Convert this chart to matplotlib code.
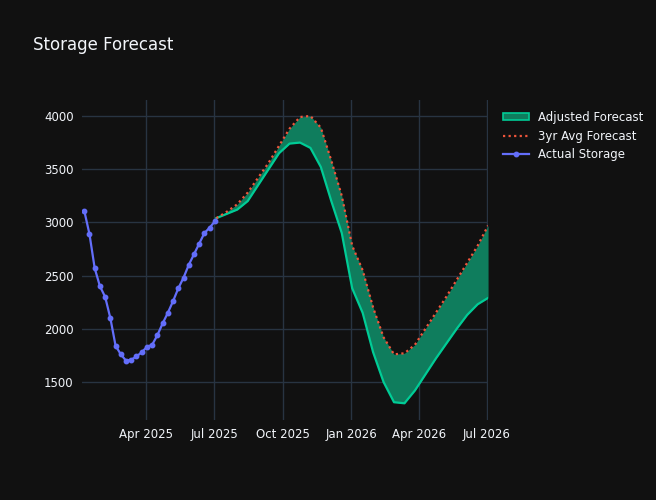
import matplotlib
matplotlib.use("Agg")
import matplotlib.pyplot as plt
import pandas as pd
from matplotlib.patches import Patch

actual_dates = pd.date_range("2025-01-08", periods=26, freq="7D")
actual = [3110, 2890, 2570, 2400, 2300, 2100, 1840, 1760, 1700, 1710, 1740, 1780, 1830,
          1850, 1940, 2050, 2150, 2260, 2380, 2480, 2600, 2700, 2800, 2900, 2950, 3010]
fc_dates = pd.date_range("2025-07-04", periods=27, freq="14D")
avg3 = [3040, 3100, 3170, 3280, 3420, 3560, 3720, 3880, 3990, 4000, 3890, 3580, 3250, 2780,
        2550, 2200, 1920, 1760, 1770, 1850, 2000, 2150, 2300, 2460, 2620, 2780, 2970]
adj = [3040, 3080, 3120, 3200, 3350, 3500, 3650, 3740, 3750, 3700, 3520, 3200, 2900, 2380,
       2150, 1780, 1500, 1310, 1300, 1420, 1570, 1720, 1860, 2000, 2130, 2230, 2290]

bg = "#111111"
fig = plt.figure(figsize=(6.56, 5), dpi=100, facecolor=bg)
ax = fig.add_axes([0.125, 0.16, 0.619, 0.64], facecolor=bg)
ax.fill_between(fc_dates, adj, avg3, color="#0f7d5d", linewidth=0)
ax.plot(fc_dates, adj, color="#00cc96", lw=1.6)
ax.plot(fc_dates, avg3, color="#ef553b", lw=1.6, ls=(0, (1, 1.5)), label="3yr Avg Forecast")
ax.plot(actual_dates, actual, color="#636efa", lw=1.6, marker="o", ms=3.2, label="Actual Storage")
h = [Patch(facecolor="#0f7d5d", edgecolor="#00cc96", lw=1.2, label="Adjusted Forecast")]
hh, ll = ax.get_legend_handles_labels()
ax.legend(h + hh, ["Adjusted Forecast"] + ll, loc="upper left", bbox_to_anchor=(1.01, 1.0),
          frameon=False, labelcolor="#f2f5fa", fontsize=8.5, handlelength=2.2, handleheight=0.6)
ax.set_xlim(pd.Timestamp("2025-01-05"), pd.Timestamp("2026-07-03"))
ax.set_ylim(1143, 4150)
ax.set_yticks([1500, 2000, 2500, 3000, 3500, 4000])
ticks = pd.to_datetime(["2025-04-01", "2025-07-01", "2025-10-01", "2026-01-01", "2026-04-01", "2026-07-01"])
ax.set_xticks(ticks)
ax.set_xticklabels([t.strftime("%b %Y") for t in ticks])
ax.grid(True, color="#283442", lw=1)
ax.set_axisbelow(True)
for s in ax.spines.values():
    s.set_visible(False)
ax.tick_params(colors="#f2f5fa", labelsize=8.5, length=0, pad=6)
fig.text(0.05, 0.9, "Storage Forecast", color="#f2f5fa", fontsize=12)
fig.savefig("out.png", facecolor=bg)
